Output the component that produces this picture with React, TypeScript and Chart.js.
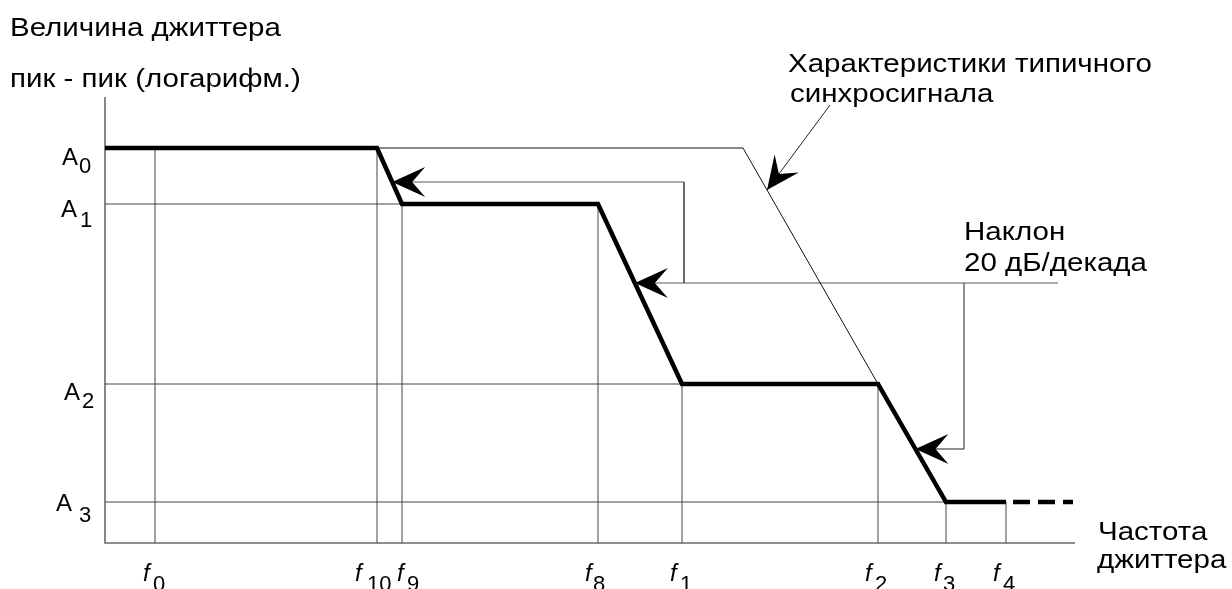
import React, { useEffect, useRef } from 'react';
import { Chart, registerables } from 'chart.js';

Chart.register(...registerables);

// ---- data (schematic units: x = log frequency, y = log jitter amplitude) ----
const freqSubscripts = ['0', '10', '9', '8', '1', '2', '3', '4'];
const freqValues = [5.0, 27.2, 29.7, 49.3, 57.7, 77.3, 84.1, 90.1];

const ampSubscripts = ['0', '1', '2', '3'];
const ampValues = [39.5, 33.9, 15.9, 4.1];

// jitter tolerance mask corners (thick line)
const maskFreqs = [0, 27.2, 29.7, 49.3, 57.7, 77.3, 84.1, 90.1];
const maskAmps = [39.5, 39.5, 33.9, 33.9, 15.9, 15.9, 4.1, 4.1];
const maskTailEnd = 96.8;

// typical sync signal characteristic (thin line)
const typicalFreqs = [27.2, 63.8, 77.3];
const typicalAmps = [39.5, 39.5, 15.9];

// "slope 20 dB/decade" leader lines
const arrowLevels = [36.1, 26.0, 9.4];
const leaderFreqs = [57.9, 85.9, 95.3];

// annotation leader for "typical sync signal"
const annotationFrom = [72.5, 43.8];
const annotationLevel = 35.3;

const xMax = 97;
const yMax = 44.6;

// ---- helpers ----
function xAtY(xs: number[], ys: number[], y: number): number {
  for (let i = 0; i < xs.length - 1; i++) {
    const y0 = ys[i], y1 = ys[i + 1];
    if (y0 === y1) continue;
    const lo = Math.min(y0, y1), hi = Math.max(y0, y1);
    if (y >= lo && y <= hi) {
      return xs[i] + ((y - y0) / (y1 - y0)) * (xs[i + 1] - xs[i]);
    }
  }
  return xs[0];
}
function yAtX(xs: number[], ys: number[], x: number): number {
  for (let i = 0; i < xs.length - 1; i++) {
    if (x >= xs[i] && x <= xs[i + 1]) {
      if (xs[i + 1] === xs[i]) return ys[i];
      return ys[i] + ((x - xs[i]) / (xs[i + 1] - xs[i])) * (ys[i + 1] - ys[i]);
    }
  }
  return ys[ys.length - 1];
}
const pts = (xs: number[], ys: number[]) => xs.map((x, i) => ({ x, y: ys[i] }));

// ---- styles / layout ----
const FAM = "'Liberation Sans', Arial, sans-serif";
const FONT_TXT = `25px ${FAM}`;
const FONT_A = `24px ${FAM}`;
const FONT_SUB = `22px ${FAM}`;
const FONT_F = `italic 24px ${FAM}`;
const TXT_SCALE = 1.18;

const ampLabelLayout = [
  { ax: 62, ab: 17, sx: 79, sb: 25 },
  { ax: 61, ab: 13, sx: 80, sb: 23 },
  { ax: 64, ab: 16, sx: 82, sb: 24 },
  { ax: 56, ab: 9, sx: 79, sb: 20 },
];
const freqLabelLayout = [
  { fx: -12, sx: -2 },
  { fx: -22, sx: -10 },
  { fx: -5, sx: 5 },
  { fx: -13, sx: -5 },
  { fx: -12, sx: -2 },
  { fx: -13, sx: -3 },
  { fx: -12, sx: -3 },
  { fx: -13, sx: -3 },
];
const textBlocks = [
  { t: 'Величина джиттера', x: 10, y: 36 },
  { t: 'пик - пик (логарифм.)', x: 10, y: 87 },
  { t: 'Характеристики типичного', x: 788, y: 72 },
  { t: 'синхросигнала', x: 790, y: 102 },
  { t: 'Наклон', x: 964, y: 240 },
  { t: '20 дБ/декада', x: 964, y: 271 },
  { t: 'Частота', x: 1098, y: 540 },
  { t: 'джиттера', x: 1097, y: 568 },
];

function drawScaled(ctx: CanvasRenderingContext2D, text: string, x: number, y: number, sx: number) {
  ctx.save();
  ctx.translate(x, y);
  ctx.scale(sx, 1);
  ctx.fillText(text, 0, 0);
  ctx.restore();
}

function drawArrowHead(ctx: CanvasRenderingContext2D, tx: number, ty: number, fx: number, fy: number) {
  const dx = tx - fx, dy = ty - fy;
  const len = Math.hypot(dx, dy) || 1;
  const ux = dx / len, uy = dy / len;
  const px = -uy, py = ux;
  const back = 33, half = 15, notch = 20;
  ctx.beginPath();
  ctx.moveTo(tx, ty);
  ctx.lineTo(tx - ux * back + px * half, ty - uy * back + py * half);
  ctx.lineTo(tx - ux * notch, ty - uy * notch);
  ctx.lineTo(tx - ux * back - px * half, ty - uy * back - py * half);
  ctx.closePath();
  ctx.fillStyle = '#000';
  ctx.fill();
}

export default function App() {
  const ref = useRef<HTMLCanvasElement | null>(null);

  useEffect(() => {
    if (!ref.current) return;

    const tip1 = xAtY(maskFreqs, maskAmps, arrowLevels[0]);
    const tip2 = xAtY(maskFreqs, maskAmps, arrowLevels[1]);
    const tip3 = xAtY(maskFreqs, maskAmps, arrowLevels[2]);
    const tipA = xAtY(typicalFreqs, typicalAmps, annotationLevel);

    const line = (data: any[], color: string, width: number, extra: any = {}) => ({
      data,
      borderColor: color,
      borderWidth: width,
      pointRadius: 0,
      tension: 0,
      fill: false,
      clip: false,
      order: 5,
      ...extra,
    });

    const datasets: any[] = [];
    // axes
    datasets.push(line([{ x: 0, y: yMax }, { x: 0, y: 0 }, { x: xMax, y: 0 }], '#6a6a6a', 1.6, { order: 6 }));
    // vertical drop lines from the mask to the frequency axis
    freqValues.forEach((f) => {
      datasets.push(line([{ x: f, y: 0 }, { x: f, y: yAtX(maskFreqs, maskAmps, f) }], '#444', 1));
    });
    // horizontal drop lines from mask corners to amplitude axis
    ampValues.slice(1).forEach((a) => {
      const cx = maskFreqs[maskAmps.indexOf(a)];
      datasets.push(line([{ x: 0, y: a }, { x: cx, y: a }], '#444', 1));
    });
    // typical characteristic
    datasets.push(line(pts(typicalFreqs, typicalAmps), '#111', 1, { order: 4 }));
    // leaders with arrows at start
    datasets.push(line([
      { x: tip1, y: arrowLevels[0] },
      { x: leaderFreqs[0], y: arrowLevels[0] },
      { x: leaderFreqs[0], y: arrowLevels[1] },
      { x: leaderFreqs[2], y: arrowLevels[1] },
    ], '#555', 1, { arrowStart: true }));
    datasets.push(line([
      { x: tip2, y: arrowLevels[1] },
      { x: leaderFreqs[0], y: arrowLevels[1] },
    ], '#555', 1, { arrowStart: true }));
    datasets.push(line([
      { x: tip3, y: arrowLevels[2] },
      { x: leaderFreqs[1], y: arrowLevels[2] },
      { x: leaderFreqs[1], y: arrowLevels[1] },
    ], '#222', 1, { arrowStart: true }));
    datasets.push(line([
      { x: tipA, y: annotationLevel },
      { x: annotationFrom[0], y: annotationFrom[1] },
    ], '#222', 1, { arrowStart: true }));
    // mask
    datasets.push(line(pts(maskFreqs, maskAmps), '#000', 4.5, { order: 0, borderJoinStyle: 'miter', borderCapStyle: 'butt' }));
    datasets.push(line([
      { x: maskFreqs[maskFreqs.length - 1], y: maskAmps[maskAmps.length - 1] },
      { x: maskTailEnd, y: maskAmps[maskAmps.length - 1] },
    ], '#000', 4.5, { order: 0, borderDash: [17, 8], borderDashOffset: 18, borderCapStyle: 'butt' }));

    const overlay = {
      id: 'overlay',
      afterDatasetsDraw(chart: any) {
        const ctx: CanvasRenderingContext2D = chart.ctx;
        chart.data.datasets.forEach((ds: any, i: number) => {
          if (!ds.arrowStart) return;
          const meta = chart.getDatasetMeta(i);
          const p0 = meta.data[0], p1 = meta.data[1];
          drawArrowHead(ctx, p0.x, p0.y, p1.x, p1.y);
        });
      },
      afterDraw(chart: any) {
        const ctx: CanvasRenderingContext2D = chart.ctx;
        const xs = chart.scales.x, ys = chart.scales.y;
        ctx.save();
        ctx.fillStyle = '#000';
        ctx.textBaseline = 'alphabetic';
        ctx.textAlign = 'left';
        ctx.font = FONT_TXT;
        textBlocks.forEach((b) => drawScaled(ctx, b.t, b.x, b.y, TXT_SCALE));
        ampValues.forEach((a, i) => {
          const py = ys.getPixelForValue(a);
          const L = ampLabelLayout[i];
          ctx.font = FONT_A;
          ctx.fillText('A', L.ax, py + L.ab);
          ctx.font = FONT_SUB;
          ctx.fillText(ampSubscripts[i], L.sx, py + L.sb);
        });
        freqValues.forEach((f, i) => {
          const px = xs.getPixelForValue(f);
          const L = freqLabelLayout[i];
          ctx.font = FONT_F;
          ctx.fillText('f', px + L.fx, 581);
          ctx.font = FONT_SUB;
          ctx.fillText(freqSubscripts[i], px + L.sx, 591);
        });
        ctx.restore();
      },
    };

    const chart = new Chart(ref.current, {
      type: 'line',
      data: { datasets },
      options: {
        animation: false,
        responsive: true,
        maintainAspectRatio: false,
        events: [],
        layout: { padding: { left: 105, right: 157, top: 97, bottom: 46 } },
        plugins: { legend: { display: false }, tooltip: { enabled: false } },
        scales: {
          x: { type: 'linear', min: 0, max: xMax, display: false },
          y: { type: 'linear', min: 0, max: yMax, display: false },
        },
      },
      plugins: [overlay],
    } as any);

    return () => chart.destroy();
  }, []);

  return (
    <div style={{ position: 'fixed', left: 0, top: 0, width: 1232, height: 589, background: '#fff' }}>
      <canvas ref={ref} />
    </div>
  );
}
